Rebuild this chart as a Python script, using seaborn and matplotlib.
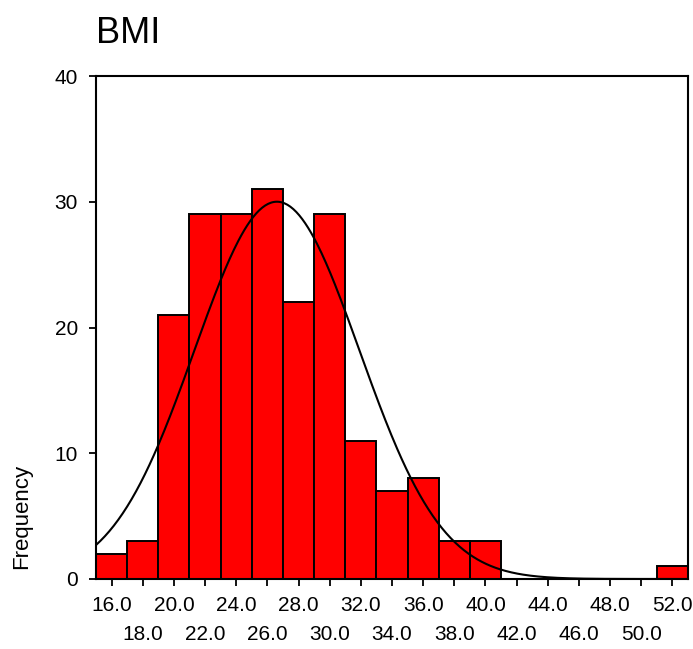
import numpy as np
import pandas as pd
import seaborn as sns
import matplotlib.pyplot as plt

# histogram counts per 2-unit BMI bin (bin centres)
bmi_centres = [16, 18, 20, 22, 24, 26, 28, 30, 32, 34, 36, 38, 40, 52]
bmi_counts = [2, 3, 21, 29, 29, 31, 22, 29, 11, 7, 8, 3, 3, 1]
major_ticks = [16, 20, 24, 28, 32, 36, 40, 44, 48, 52]
minor_ticks = [18, 22, 26, 30, 34, 38, 42, 46, 50]
y_ticks = [0, 10, 20, 30, 40]

df = pd.DataFrame({'BMI': bmi_centres, 'n': bmi_counts})

sns.set_style('ticks')
plt.rcParams['font.family'] = ['Liberation Sans', 'DejaVu Sans']
plt.rcParams['text.color'] = 'black'
plt.rcParams['xtick.color'] = 'black'
plt.rcParams['ytick.color'] = 'black'

fig = plt.figure(figsize=(6.93, 6.49), dpi=100)
ax = fig.add_axes([96/693, 1-579/649, 592/693, 503/649])

bin_w = 2
sns.histplot(data=df, x='BMI', weights='n', binwidth=bin_w, binrange=(15, 53),
             color='#ff0000', alpha=1, edgecolor='black', linewidth=1.4, ax=ax)

# fitted normal curve (from the binned data), scaled to counts
w = np.array(bmi_counts)
c = np.array(bmi_centres)
mean = np.average(c, weights=w)
sd = np.sqrt(np.sum(w*(c-mean)**2)/(w.sum()-1))
xs = np.linspace(15, 53, 400)
ys = w.sum()*bin_w/(sd*np.sqrt(2*np.pi))*np.exp(-0.5*((xs-mean)/sd)**2)
sns.lineplot(x=xs, y=ys, color='black', linewidth=1.5, ax=ax)

ax.set_xlim(15, 53)
ax.set_ylim(0, 40)
ax.set_yticks(y_ticks)
ax.set_yticklabels([str(v) for v in y_ticks])
ax.set_xticks(major_ticks)
ax.set_xticklabels(['%.1f' % v for v in major_ticks])
ax.set_xticks(minor_ticks, minor=True)
ax.set_xticklabels(['%.1f' % v for v in minor_ticks], minor=True)
ax.tick_params(axis='both', which='both', direction='out', length=5, width=1.3,
               labelsize=15, color='black', labelcolor='black')
ax.tick_params(axis='y', pad=8)
ax.tick_params(axis='x', which='major', pad=7)
ax.tick_params(axis='x', which='minor', pad=28)
for s in ax.spines.values():
    s.set_visible(True)
    s.set_linewidth(1.5)
    s.set_color('black')

ax.set_xlabel('')
ax.set_ylabel('')
fig.text(11/693, 1-569/649, 'Frequency', rotation=90, ha='left', va='bottom', fontsize=16)
ax.set_title('BMI', loc='left', pad=24, fontsize=26, x=0.0, color='black')

fig.savefig('out.png', dpi=100)
